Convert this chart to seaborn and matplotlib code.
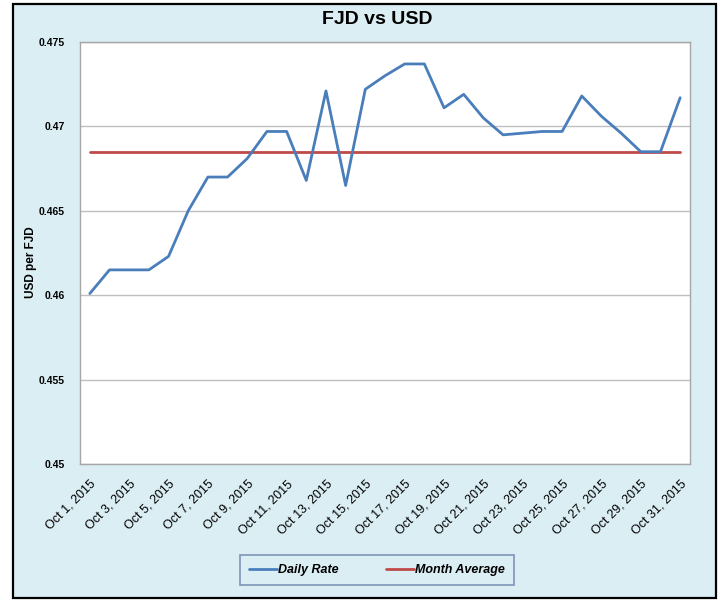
import pandas as pd
import seaborn as sns
import matplotlib.pyplot as plt
from matplotlib.patches import Rectangle
from matplotlib.ticker import FixedLocator

# daily FJD->USD rate, Oct 2015
days = list(range(1, 32))
daily_rate = [0.4601, 0.4615, 0.4615, 0.4615, 0.4623, 0.4650, 0.4670, 0.4670,
              0.4681, 0.4697, 0.4697, 0.4668, 0.4721, 0.4665, 0.4722, 0.4730,
              0.4737, 0.4737, 0.4711, 0.4719, 0.4705, 0.4695, 0.4696, 0.4697,
              0.4697, 0.4718, 0.4706, 0.4696, 0.4685, 0.4685, 0.4717]
month_average = 0.4685
y_ticks = [0.45, 0.455, 0.46, 0.465, 0.47, 0.475]
x_labels = ["Oct %d, 2015" % d for d in days[::2]]

df = pd.DataFrame({"day": days, "Daily Rate": daily_rate,
                   "Month Average": [month_average] * len(days)})
long = df.melt(id_vars="day", var_name="series", value_name="rate")

sns.set_style("white")
plt.rcParams['font.family'] = ['DejaVu Sans Condensed', 'Liberation Sans', 'DejaVu Sans']
plt.rcParams['text.color'] = 'black'
plt.rcParams['xtick.color'] = 'black'
plt.rcParams['ytick.color'] = 'black'

bg = "#dbeef4"
fig = plt.figure(figsize=(7.26, 6.01), dpi=100)
fig.patch.set_facecolor("white")
fig.patches.append(Rectangle((13 / 726, 3 / 601), 703 / 726, 594 / 601,
                             transform=fig.transFigure, facecolor=bg,
                             edgecolor="black", linewidth=1.6, zorder=-10))

ax = fig.add_axes([80 / 726, 1 - 464 / 601, 610 / 726, 422 / 601])
ax.set_facecolor("white")
sns.lineplot(data=long, x="day", y="rate", hue="series",
             hue_order=["Month Average", "Daily Rate"],
             palette={"Daily Rate": "#4a7ebb", "Month Average": "#be4b48"},
             linewidth=2, ax=ax, legend=False)

ax.set_xlim(0.5, 31.5)
ax.set_ylim(0.45, 0.475)
ax.set_yticks(y_ticks)
ax.set_yticklabels(["%g" % v for v in y_ticks], fontsize=7.5, fontweight="bold")
ax.yaxis.grid(True, color="#c0c0c0", linewidth=1)
ax.set_axisbelow(True)

ax.set_xticks(days[::2])
ax.set_xticklabels(x_labels, rotation=45, ha="right", rotation_mode="anchor",
                   fontsize=9)
ax.tick_params(axis="x", length=0, pad=10)
ax.xaxis.set_minor_locator(FixedLocator([d + 0.5 for d in range(0, 32)]))
ax.tick_params(axis="x", which="minor", length=5, color="#a0a0a0", direction="out")
ax.tick_params(axis="y", length=5, color="#a0a0a0", labelcolor="black",
               direction="out", pad=6)

for s in ax.spines.values():
    s.set_color("#a6a6a6")
    s.set_linewidth(1)

ax.set_xlabel("")
ax.set_ylabel("")
fig.text(31 / 726, 1 - 262 / 601, "USD per FJD", rotation=90, ha="center",
         va="center", fontsize=8.5, fontweight="bold")

fig.text(377 / 726, 1 - 20 / 601, "FJD vs USD", ha="center", va="center",
         fontsize=14, fontweight="bold")

handles = [plt.Line2D([], [], color="#4a7ebb", linewidth=2),
           plt.Line2D([], [], color="#be4b48", linewidth=2)]
leg = fig.legend(handles, ["Daily Rate", "Month Average"], ncol=2,
                 loc="center", bbox_to_anchor=(377 / 726, 1 - 570 / 601),
                 frameon=True, fancybox=False, handlelength=2.2,
                 handletextpad=0.1, columnspacing=3.8, borderpad=0.75,
                 borderaxespad=0,
                 prop={"style": "italic", "weight": "bold", "size": 9})
leg.get_frame().set_edgecolor("#7f93b8")
leg.get_frame().set_facecolor(bg)
leg.get_frame().set_linewidth(1.2)
leg.get_frame().set_alpha(1)

fig.savefig("out.png", dpi=100, facecolor=fig.get_facecolor())
